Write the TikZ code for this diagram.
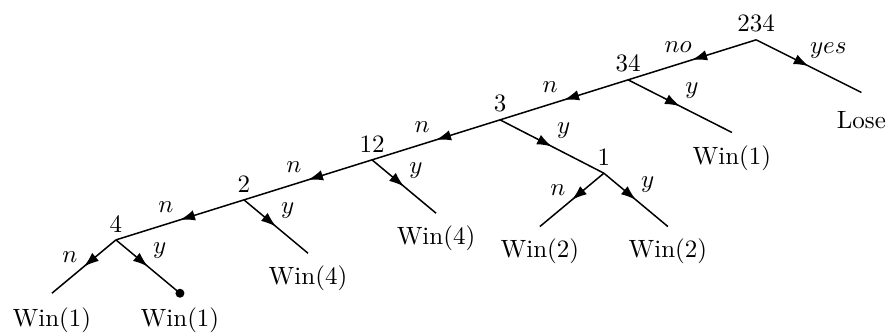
\documentclass[tikz,border=0pt]{standalone}
\usepackage{tikz}
\usetikzlibrary{arrows.meta,decorations.markings,positioning,calc}

\tikzset{
    midarrow/.style={postaction={decorate},
	decoration={markings,mark=at position .5 with {\arrow{Latex[length=6pt,width=4.2pt]}}}},
    nlbl/.style={above,inner sep=1pt,xshift=-5.6pt,yshift=1.8pt},
    ylbl/.style={anchor=south west,inner sep=1pt,xshift=.8pt,yshift=1.8pt},
}

\begin{document}
\begin{tikzpicture}[semithick]
    \useasboundingbox (0,0) rectangle (12.47,-4.668);
    \coordinate (v234) at (10.63,-.56);
    \path (v234) ++(-1.8,-.5625) coordinate(v34)
	++(-1.8,-.5625) coordinate(v3)
	++(-1.8,-.5625) coordinate(v12)
	++(-1.8,-.5625) coordinate(v2)
	++(-1.8,-.5625) coordinate(v4);
    \path (v234) ++(1.48,-.74) coordinate(lose);
    \path (v34) ++(1.46,-.74) coordinate(winone);
    \path (v3) ++(1.46,-.75) coordinate(v1);
    \path (v12) ++(.9,-.75) coordinate(winfour);
    \path (v2) ++(.9,-.75) coordinate(winfourb);
    \path (v4) ++(-.9,-.75) coordinate(winoneb);
    \path (v4) ++(.9,-.75) coordinate(dot);
    \path (v1) ++(-.9,-.75) coordinate(wintwo);
    \path (v1) ++(.9,-.75) coordinate(wintwob);

    \node[above=-.5pt] (t234) at (v234) {234};
    \node[above=-.5pt] (t34) at (v34) {34};
    \node[above=-.5pt] (t3) at (v3) {3};
    \node[above=-.5pt] (t12) at (v12) {12};
    \node[above=-.5pt] (t2) at (v2) {2};
    \node[above=-.5pt] (t4) at (v4) {4};
    \node[above=-.5pt] (t1) at (v1) {1};

    \node[anchor=north,yshift=-4pt] (tlose) at (lose) {Lose};
    \node[below=1.6pt] (twinone) at (winone) {Win(1)};
    \node[below=1.4pt] (twinfour) at (winfour) {Win(4)};
    \node[below=1.4pt] (twinfourb) at (winfourb) {Win(4)};
    \node[below=2pt] (twinoneb) at (winoneb) {Win(1)};
    \node[below=2pt] (tdot) at (dot) {Win(1)};
    \node[below=1.4pt] (twintwo) at (wintwo) {Win(2)};
    \node[below=1.4pt] (twintwob) at (wintwob) {Win(2)};

    \draw[midarrow] (v234) -- node[nlbl](lno){$no$} (v34);
    \draw[midarrow] (v234) -- node[ylbl,xshift=-1.6pt](lyes){$yes$} (lose);
    \draw[midarrow] (v34) -- node[nlbl](lna){$n$} (v3);
    \draw[midarrow] (v34) -- node[ylbl](lya){$y$} (winone);
    \draw[midarrow] (v3) -- node[nlbl](lnb){$n$} (v12);
    \draw[midarrow] (v3) -- node[ylbl](lyb){$y$} (v1);
    \draw[midarrow] (v12) -- node[nlbl](lnc){$n$} (v2);
    \draw[midarrow] (v12) -- node[ylbl](lyc){$y$} (winfour);
    \draw[midarrow] (v2) -- node[nlbl](lnd){$n$} (v4);
    \draw[midarrow] (v2) -- node[ylbl](lyd){$y$} (winfourb);
    \draw[midarrow] (v4) -- node[nlbl,yshift=-1.5pt](lne){$n$} (winoneb);
    \draw[midarrow] (v4) -- node[ylbl](lye){$y$} (dot);
    \draw[midarrow] (v1) -- node[nlbl,yshift=-1.5pt](lnf){$n$} (wintwo);
    \draw[midarrow] (v1) -- node[ylbl](lyf){$y$} (wintwob);
    \fill (dot) circle (1.8pt);
\end{tikzpicture}
\end{document}
